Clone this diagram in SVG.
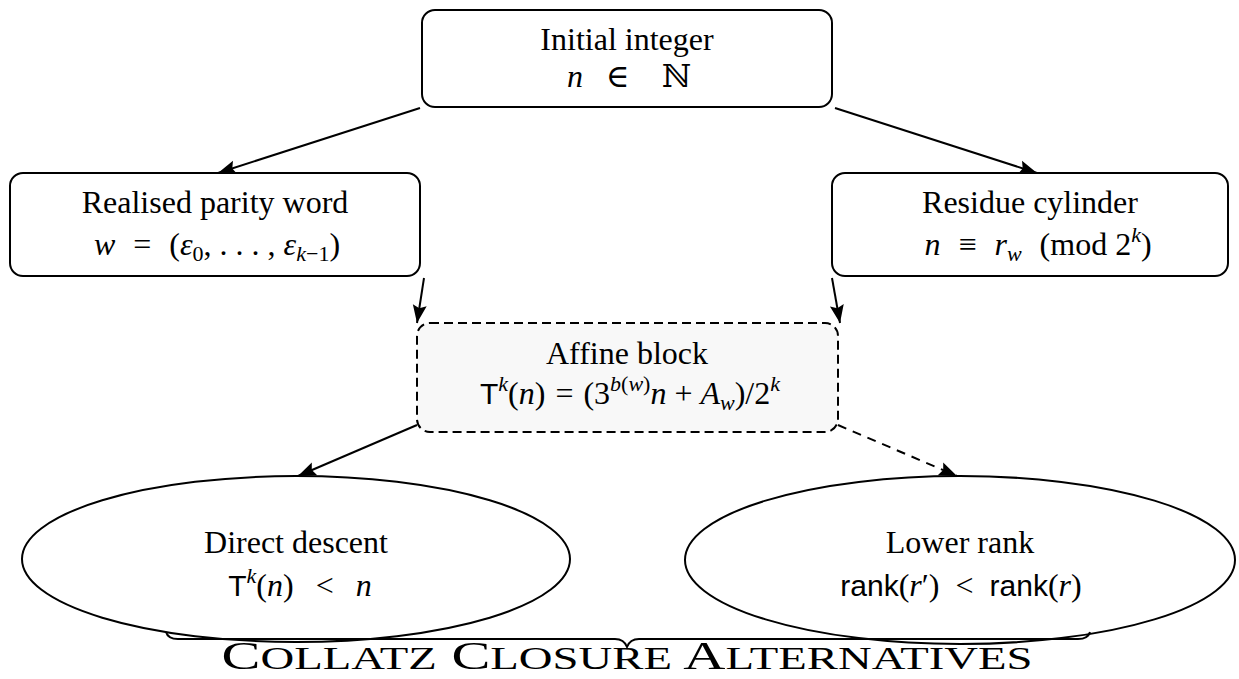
<svg xmlns="http://www.w3.org/2000/svg" width="1239" height="679" viewBox="0 0 1239 679">
  <defs>
    <marker id="arrow" markerUnits="userSpaceOnUse" markerWidth="20" markerHeight="16" refX="18" refY="8" orient="auto">
      <path d="M0,1 L18,8 L0,15 L3,8 Z" fill="#000"/>
    </marker>
    <style>
      .box { fill: #fff; stroke: #000; stroke-width: 2; }
      .dashed { fill: #f8f8f8; stroke: #000; stroke-width: 2; stroke-dasharray: 9 5; }
      .ell { fill: #fff; stroke: #000; stroke-width: 2; }
      .edge { fill: none; stroke: #000; stroke-width: 2; marker-end: url(#arrow); }
      .edge.dash { stroke-dasharray: 9 7; }
      text { font-family: "Liberation Serif", "DejaVu Serif", serif; font-size: 32px; fill: #000; }
      .c { text-anchor: middle; }
      .it { font-style: italic; }
      .sf { font-family: "Liberation Sans", "DejaVu Sans", sans-serif; font-size: 30px; }
      .bb { font-family: "DejaVu Serif", "DejaVu Sans", serif; }
      .sm { font-size: 22px; }
      .brace { fill: none; stroke: #000; stroke-width: 2; }
    </style>
  </defs>

  <!-- connectors -->
  <g id="connectors">
    <line class="edge" x1="420" y1="108" x2="218" y2="173"/>
    <line class="edge" x1="835" y1="108" x2="1037" y2="173"/>
    <line class="edge" x1="424" y1="278" x2="417" y2="323"/>
    <line class="edge" x1="832" y1="278" x2="840" y2="323"/>
    <line class="edge" x1="417" y1="425" x2="298" y2="476"/>
    <line class="edge dash" x1="838" y1="425" x2="957" y2="476"/>
  </g>

  <g id="initial">
    <rect class="box" x="422" y="10" width="410" height="97" rx="13"/>
    <text class="c" x="627" y="50">Initial integer</text>
    <text y="87"><tspan class="it" x="567">n</tspan><tspan x="606">∈</tspan><tspan class="bb" x="662">ℕ</tspan></text>
  </g>

  <g id="parity">
    <rect class="box" x="10" y="173" width="410" height="103" rx="13"/>
    <text class="c" x="215" y="213">Realised parity word</text>
    <text class="c" x="217" y="255"><tspan class="it">w</tspan><tspan dx="18">=</tspan><tspan dx="18">(</tspan><tspan class="it">ε</tspan><tspan class="sm" dy="6">0</tspan><tspan dy="-6">, . . . ,</tspan><tspan class="it" dx="8">ε</tspan><tspan class="sm it" dy="6">k</tspan><tspan class="sm">−1</tspan><tspan dy="-6">)</tspan></text>
  </g>

  <g id="cylinder">
    <rect class="box" x="832" y="173" width="396" height="103" rx="13"/>
    <text class="c" x="1030" y="213">Residue cylinder</text>
    <text class="c" x="1038" y="255"><tspan class="it">n</tspan><tspan dx="18">≡</tspan><tspan class="it" dx="18">r</tspan><tspan class="sm it" dy="6">w</tspan><tspan dy="-6" dx="18">(mod 2</tspan><tspan class="sm it" dy="-13">k</tspan><tspan dy="13">)</tspan></text>
  </g>

  <g id="affine">
    <rect class="dashed" x="417" y="323" width="421" height="109" rx="13"/>
    <text class="c" x="627" y="364">Affine block</text>
    <text class="c" x="630" y="404"><tspan class="sf">T</tspan><tspan class="sm it" dy="-13">k</tspan><tspan dy="13">(</tspan><tspan class="it">n</tspan><tspan>)</tspan><tspan dx="10">=</tspan><tspan dx="10">(3</tspan><tspan class="sm it" dy="-13">b</tspan><tspan class="sm">(</tspan><tspan class="sm it">w</tspan><tspan class="sm">)</tspan><tspan class="it" dy="13">n</tspan><tspan dx="8">+</tspan><tspan class="it" dx="8">A</tspan><tspan class="sm it" dy="6">w</tspan><tspan dy="-6">)/2</tspan><tspan class="sm it" dy="-13">k</tspan></text>
  </g>

  <g id="descent">
    <ellipse class="ell" cx="296" cy="559" rx="274" ry="83"/>
    <text class="c" x="296" y="553">Direct descent</text>
    <text class="c" x="300" y="596"><tspan class="sf">T</tspan><tspan class="sm it" dy="-13">k</tspan><tspan dy="13">(</tspan><tspan class="it">n</tspan><tspan>)</tspan><tspan dx="22">&lt;</tspan><tspan class="it" dx="22">n</tspan></text>
  </g>

  <g id="rank">
    <ellipse class="ell" cx="960" cy="560" rx="275" ry="84"/>
    <text class="c" x="960" y="553">Lower rank</text>
    <text class="c" x="961" y="596"><tspan class="sf">rank</tspan><tspan>(</tspan><tspan class="it">r</tspan><tspan>′)</tspan><tspan dx="16">&lt;</tspan><tspan class="sf" dx="16">rank</tspan><tspan>(</tspan><tspan class="it">r</tspan><tspan>)</tspan></text>
  </g>

  <g id="closure">
    <path class="brace" d="M166,632 Q168,639 178,639 L615,639 Q624,639 627,647 Q630,639 639,639 L1078,639 Q1088,639 1090,632"/>
    <text class="c" x="627" y="669" textLength="811" lengthAdjust="spacingAndGlyphs"><tspan style="font-size:40px">C</tspan><tspan style="font-size:32px">OLLATZ</tspan><tspan style="font-size:40px"> C</tspan><tspan style="font-size:32px">LOSURE</tspan><tspan style="font-size:40px"> A</tspan><tspan style="font-size:32px">LTERNATIVES</tspan></text>
  </g>
</svg>
